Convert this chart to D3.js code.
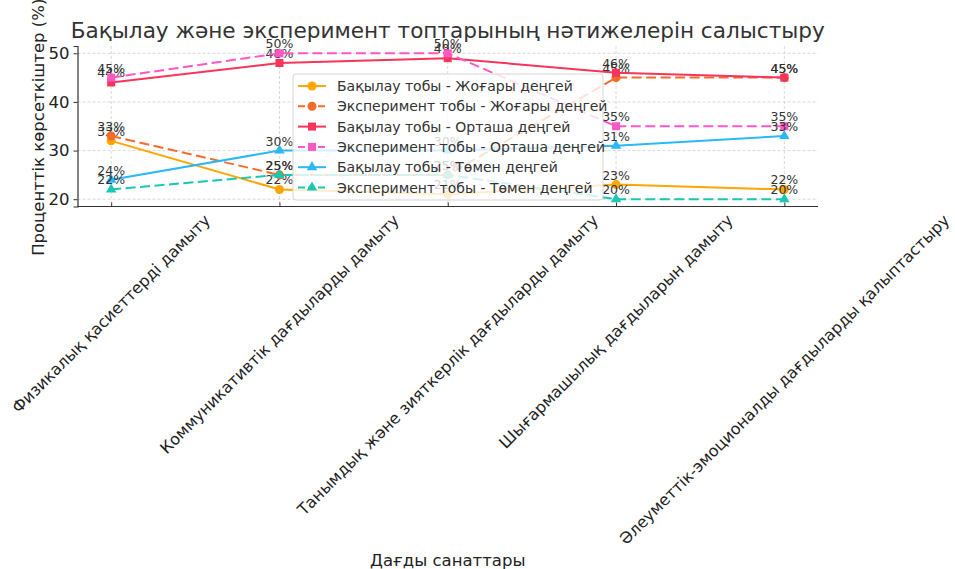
<!DOCTYPE html>
<html>
<head>
<meta charset="utf-8">
<script src="https://cdn.jsdelivr.net/npm/d3@7"></script>
<style>
  body { margin: 0; background: #fff; }
  svg { font-family: "DejaVu Sans", sans-serif; }
</style>
</head>
<body>
<div id="container"></div>
<script>
const categories = [
    "Физикалық қасиеттерді дамыту",
    "Коммуникативтік дағдыларды дамыту",
    "Танымдық және зияткерлік дағдыларды дамыту",
    "Шығармашылық дағдыларын дамыту",
    "Әлеуметтік-эмоционалды дағдыларды қалыптастыру"
];
const seriesNames = [
    "Бақылау тобы - Жоғары деңгей",
    "Эксперимент тобы - Жоғары деңгей",
    "Бақылау тобы - Орташа деңгей",
    "Эксперимент тобы - Орташа деңгей",
    "Бақылау тобы - Төмен деңгей",
    "Эксперимент тобы - Төмен деңгей"
];
const controlHigh = [32, 22, 21, 23, 22];
const expHigh = [33, 25, 25, 45, 45];
const controlMid = [44, 48, 49, 46, 45];
const expMid = [45, 50, 50, 35, 35];
const controlLow = [24, 30, 30, 31, 33];
const expLow = [22, 25, 25, 20, 20];
const yTicks = [20, 30, 40, 50];

const seriesValues = [controlHigh, expHigh, controlMid, expMid, controlLow, expLow];
const colors = ["#FFA500", "#F46B2C", "#F7345A", "#FF57C4", "#2AB8F8", "#17C8B4"];
const dashed = [false, true, false, true, false, true];
const symbols = [d3.symbolCircle, d3.symbolCircle, d3.symbolSquare, d3.symbolSquare, d3.symbolTriangle, d3.symbolTriangle];

const width = 955, height = 569;
const plot = {left: 77.5, right: 818, top: 46, bottom: 206.5};

const svg = d3.select("#container").append("svg")
    .attr("width", width)
    .attr("height", height);

const x = d3.scalePoint()
    .domain(categories)
    .range([plot.left, plot.right])
    .padding(0.2);

const y = d3.scaleLinear()
    .domain([18.5, 51.5])
    .range([plot.bottom, plot.top]);

// grid
const grid = svg.append("g");
grid.selectAll("line.gy")
    .data(yTicks)
    .join("line")
    .attr("x1", plot.left).attr("x2", plot.right)
    .attr("y1", d => y(d)).attr("y2", d => y(d))
    .attr("stroke", "#cfcfcf").attr("stroke-width", 0.8)
    .attr("stroke-dasharray", "3,2");
grid.selectAll("line.gx")
    .data(categories)
    .join("line")
    .attr("x1", d => x(d)).attr("x2", d => x(d))
    .attr("y1", plot.top).attr("y2", plot.bottom)
    .attr("stroke", "#cfcfcf").attr("stroke-width", 0.8)
    .attr("stroke-dasharray", "3,2");

// axes
const yAxis = d3.axisLeft(y).tickValues(yTicks).tickSize(4).tickPadding(4);
const yg = svg.append("g")
    .attr("transform", `translate(${plot.left},0)`)
    .call(yAxis);
yg.select(".domain").attr("stroke", "#333").attr("stroke-width", 1.2);
yg.selectAll(".tick line").attr("stroke", "#333");
yg.selectAll(".tick text")
    .attr("font-family", "DejaVu Sans")
    .attr("font-size", 16.5)
    .attr("fill", "#222");

const xg = svg.append("g")
    .attr("transform", `translate(0,${plot.bottom})`)
    .call(d3.axisBottom(x).tickSize(-4).tickFormat(""));
xg.select(".domain").attr("stroke", "#333").attr("stroke-width", 1.2)
    .attr("d", `M${plot.left},0H${plot.right}`);
xg.selectAll(".tick line").attr("stroke", "#333");

// rotated category labels, box centred on tick
const labelTop = 211;
const fs = 16;
categories.forEach(function (c) {
    const t = svg.append("text")
        .attr("font-size", fs)
        .attr("fill", "#222")
        .attr("text-anchor", "middle")
        .attr("dominant-baseline", "central")
        .text(c);
    const L = t.node().getComputedTextLength();
    const half = (L + fs * 1.15) * Math.SQRT1_2 / 2;
    t.attr("transform", `translate(${x(c)},${labelTop + half}) rotate(-45)`);
});

// lines, markers, value labels
seriesValues.forEach(function (vals, i) {
    const pts = vals.map((v, j) => ({cat: categories[j], value: v}));
    const line = d3.line()
        .x(d => x(d.cat))
        .y(d => y(d.value));
    svg.append("path")
        .datum(pts)
        .attr("d", line)
        .attr("fill", "none")
        .attr("stroke", colors[i])
        .attr("stroke-width", 2)
        .attr("stroke-dasharray", dashed[i] ? "10,4.5" : null);
    svg.append("g").selectAll("path")
        .data(pts)
        .join("path")
        .attr("transform", d => `translate(${x(d.cat)},${y(d.value)})`)
        .attr("d", d3.symbol().type(symbols[i]).size(symbols[i] === d3.symbolTriangle ? 48 : 64))
        .attr("fill", colors[i]);
    svg.append("g").selectAll("text")
        .data(pts)
        .join("text")
        .attr("x", d => x(d.cat))
        .attr("y", d => y(d.value) - 5)
        .attr("text-anchor", "middle")
        .attr("font-size", 12.5)
        .attr("fill", "#333")
        .text(d => d.value + "%");
});

// title & axis labels
svg.append("text")
    .attr("x", (plot.left + plot.right) / 2)
    .attr("y", 38)
    .attr("text-anchor", "middle")
    .attr("font-size", 21.6)
    .attr("fill", "#333")
    .text("Бақылау және эксперимент топтарының нәтижелерін салыстыру");

svg.append("text")
    .attr("transform", `translate(38,${(plot.top + plot.bottom) / 2 + 1}) rotate(-90)`)
    .attr("text-anchor", "middle")
    .attr("dominant-baseline", "central")
    .attr("font-size", 16.5)
    .attr("fill", "#222")
    .text("Проценттік көрсеткіштер (%)");

svg.append("text")
    .attr("x", (plot.left + plot.right) / 2)
    .attr("y", 566)
    .attr("text-anchor", "middle")
    .attr("font-size", 16.5)
    .attr("fill", "#222")
    .text("Дағды санаттары");

// legend
const legend = svg.append("g").attr("transform", "translate(293,74)");
legend.append("rect")
    .attr("width", 310).attr("height", 126)
    .attr("rx", 3)
    .attr("fill", "rgba(255,255,255,0.8)")
    .attr("stroke", "#d6d6d6");
seriesNames.forEach(function (name, i) {
    const row = legend.append("g").attr("transform", `translate(0,${12 + i * 20.3})`);
    row.append("line")
        .attr("x1", 5).attr("x2", 33)
        .attr("stroke", colors[i]).attr("stroke-width", 2)
        .attr("stroke-dasharray", dashed[i] ? "7,3" : null);
    row.append("path")
        .attr("transform", "translate(19,0)")
        .attr("d", d3.symbol().type(symbols[i]).size(symbols[i] === d3.symbolTriangle ? 48 : 64))
        .attr("fill", colors[i]);
    row.append("text")
        .attr("x", 44)
        .attr("dominant-baseline", "central")
        .attr("font-size", 14)
        .attr("fill", "#333")
        .text(name);
});
</script>
</body>
</html>
